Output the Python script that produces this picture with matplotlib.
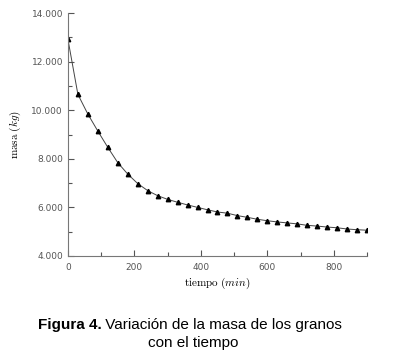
import matplotlib
matplotlib.use("Agg")
import matplotlib.pyplot as plt
from matplotlib.ticker import FuncFormatter, MultipleLocator

plt.rcParams['mathtext.fontset'] = 'cm'

# tiempo (min) y masa (kg)
tiempo = [0, 30, 60, 90, 120, 150, 180, 210, 240, 270, 300, 330, 360, 390,
          420, 450, 480, 510, 540, 570, 600, 630, 660, 690, 720, 750, 780,
          810, 840, 870, 900]
masa = [12.92, 10.65, 9.84, 9.14, 8.47, 7.84, 7.37, 6.98, 6.69, 6.48, 6.33,
        6.21, 6.10, 6.00, 5.90, 5.81, 5.76, 5.66, 5.59, 5.51, 5.45, 5.40,
        5.36, 5.32, 5.26, 5.23, 5.19, 5.16, 5.11, 5.08, 5.06]

fig = plt.figure(figsize=(4.02, 3.54), dpi=100)
ax = fig.add_axes([0.169, 0.277, 0.744, 0.686])

ax.plot(tiempo, masa, '-', color='#444444', lw=0.7, marker='^',
        markersize=3.2, markerfacecolor='black', markeredgecolor='black')

ax.set_xlim(0, 900)
ax.set_ylim(4, 14)
ax.xaxis.set_major_locator(MultipleLocator(200))
ax.xaxis.set_minor_locator(MultipleLocator(100))
ax.yaxis.set_major_locator(MultipleLocator(2))
ax.yaxis.set_minor_locator(MultipleLocator(1))
ax.yaxis.set_major_formatter(FuncFormatter(lambda v, p: "%d.000" % v))

for s in ['top', 'right']:
    ax.spines[s].set_visible(False)
for s in ['left', 'bottom']:
    ax.spines[s].set_color('#777777')
    ax.spines[s].set_linewidth(0.8)
ax.tick_params(which='both', direction='in', colors='#555555', labelsize=6.5,
               width=0.8)
ax.tick_params(which='major', length=4)
ax.tick_params(which='minor', length=3)
ax.tick_params(axis='x', pad=5)

ax.set_xlabel(r'$\mathrm{tiempo}\ (min)$', fontsize=8, labelpad=3)
ax.set_ylabel(r'$\mathrm{masa}\ (kg)$', fontsize=8, labelpad=6)

# pie de figura
fs = 11
fig.canvas.draw()
r = fig.canvas.get_renderer()
t1 = fig.text(0, 0, 'Figura 4.', fontsize=fs, fontweight='bold', family='Liberation Sans')
t2 = fig.text(0, 0, ' Variación de la masa de los granos', fontsize=fs, family='Liberation Sans')
w1 = t1.get_window_extent(r).width
w2 = t2.get_window_extent(r).width
x0 = 190 - (w1 + w2) / 2
y1 = 1 - 329 / 354
t1.set_position((x0 / 402, y1))
t2.set_position(((x0 + w1) / 402, y1))
fig.text(193 / 402, 1 - 347 / 354, 'con el tiempo', fontsize=fs,
         family='Liberation Sans', ha='center')

fig.savefig('out.png', dpi=100)
